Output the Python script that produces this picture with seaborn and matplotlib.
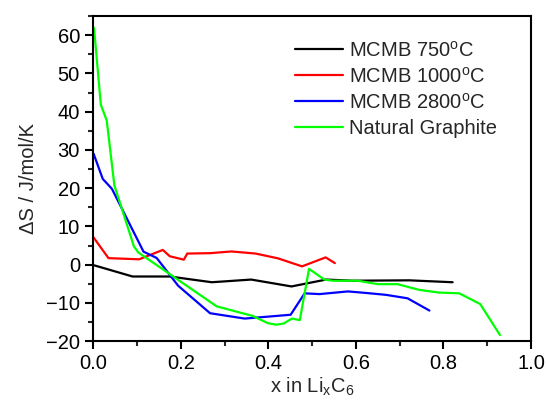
import matplotlib
matplotlib.use("Agg")
import matplotlib.pyplot as plt
import seaborn as sns
import pandas as pd
from matplotlib.ticker import MultipleLocator

sns.set_style("ticks")
plt.rcParams['font.family'] = ['Liberation Sans', 'DejaVu Sans']
plt.rcParams['mathtext.default'] = 'regular'
plt.rcParams['mathtext.fontset'] = 'custom'
plt.rcParams['mathtext.rm'] = 'Liberation Sans'

series_names = ["MCMB 750$^{o}$C", "MCMB 1000$^{o}$C", "MCMB 2800$^{o}$C", "Natural Graphite"]
colors = ["#000000", "#FF0000", "#0000FF", "#00FF00"]

x_750 = [0.0, 0.09, 0.175, 0.271, 0.361, 0.453, 0.532, 0.593, 0.722, 0.821]
y_750 = [-0.1, -3.1, -3.1, -4.6, -3.9, -5.7, -3.9, -4.2, -4.1, -4.6]

x_1000 = [0.001, 0.035, 0.105, 0.159, 0.175, 0.207, 0.215, 0.267, 0.316, 0.371, 0.422, 0.477, 0.531, 0.552]
y_1000 = [7.1, 1.7, 1.4, 3.85, 2.2, 1.3, 2.9, 3.0, 3.45, 2.9, 1.65, -0.45, 1.9, 0.4]

x_2800 = [0.001, 0.022, 0.031, 0.043, 0.115, 0.145, 0.194, 0.267, 0.346, 0.451, 0.483, 0.517, 0.582, 0.623, 0.669, 0.718, 0.768]
y_2800 = [29.0, 22.4, 21.3, 19.8, 3.4, 1.75, -5.5, -12.7, -14.1, -13.1, -7.5, -7.7, -7.0, -7.4, -7.9, -8.8, -12.0]

x_ng = [0.002, 0.0175, 0.031, 0.0485, 0.093, 0.103, 0.282, 0.364, 0.399, 0.418, 0.435, 0.454, 0.472,
        0.493, 0.528, 0.547, 0.604, 0.65, 0.695, 0.745, 0.79, 0.836, 0.884, 0.929]
y_ng = [61.9, 41.8, 37.7, 20.7, 4.8, 3.2, -10.9, -13.4, -15.3, -15.7, -15.4, -14.1, -14.5,
        -1.1, -3.9, -4.2, -4.2, -5.1, -5.1, -6.6, -7.3, -7.5, -10.3, -18.4]

xs = [x_750, x_1000, x_2800, x_ng]
ys = [y_750, y_1000, y_2800, y_ng]
frames = []
for name, xv, yv in zip(series_names, xs, ys):
    frames.append(pd.DataFrame({"x": xv, "y": yv, "series": name}))
df = pd.concat(frames, ignore_index=True)

fig = plt.figure(figsize=(5.48, 4.12), dpi=100)
ax = fig.add_axes([0.170, 0.172, 0.799, 0.789])

sns.lineplot(data=df, x="x", y="y", hue="series", palette=colors, hue_order=series_names,
             sort=False, estimator=None, linewidth=1.6, ax=ax)

ax.set_xlim(0, 1.0)
ax.set_ylim(-20, 65)
ax.xaxis.set_major_locator(MultipleLocator(0.2))
ax.xaxis.set_minor_locator(MultipleLocator(0.1))
ax.yaxis.set_major_locator(MultipleLocator(10))
ax.yaxis.set_minor_locator(MultipleLocator(5))
ax.set_xticks([0, 0.2, 0.4, 0.6, 0.8, 1.0])
ax.set_xticklabels(["0.0", "0.2", "0.4", "0.6", "0.8", "1.0"])
ax.tick_params(axis='both', which='major', direction='out', length=6, width=1.5, labelsize=14.5, colors='black')
ax.tick_params(axis='both', which='minor', direction='out', length=3.5, width=1.5)
for sp in ax.spines.values():
    sp.set_linewidth(1.5)
    sp.set_color('black')

ax.set_xlabel("x in Li$_{x}$C$_{6}$", fontsize=14.5, labelpad=2)
ax.set_ylabel("ΔS / J/mol/K", fontsize=14.5, labelpad=6)

leg = ax.legend(loc='upper left', bbox_to_anchor=(0.46, 0.925), frameon=False, fontsize=14.5,
                handlelength=2.4, handletextpad=0.3, labelspacing=0.3, borderpad=0, borderaxespad=0)

fig.savefig("out.png", dpi=100)
